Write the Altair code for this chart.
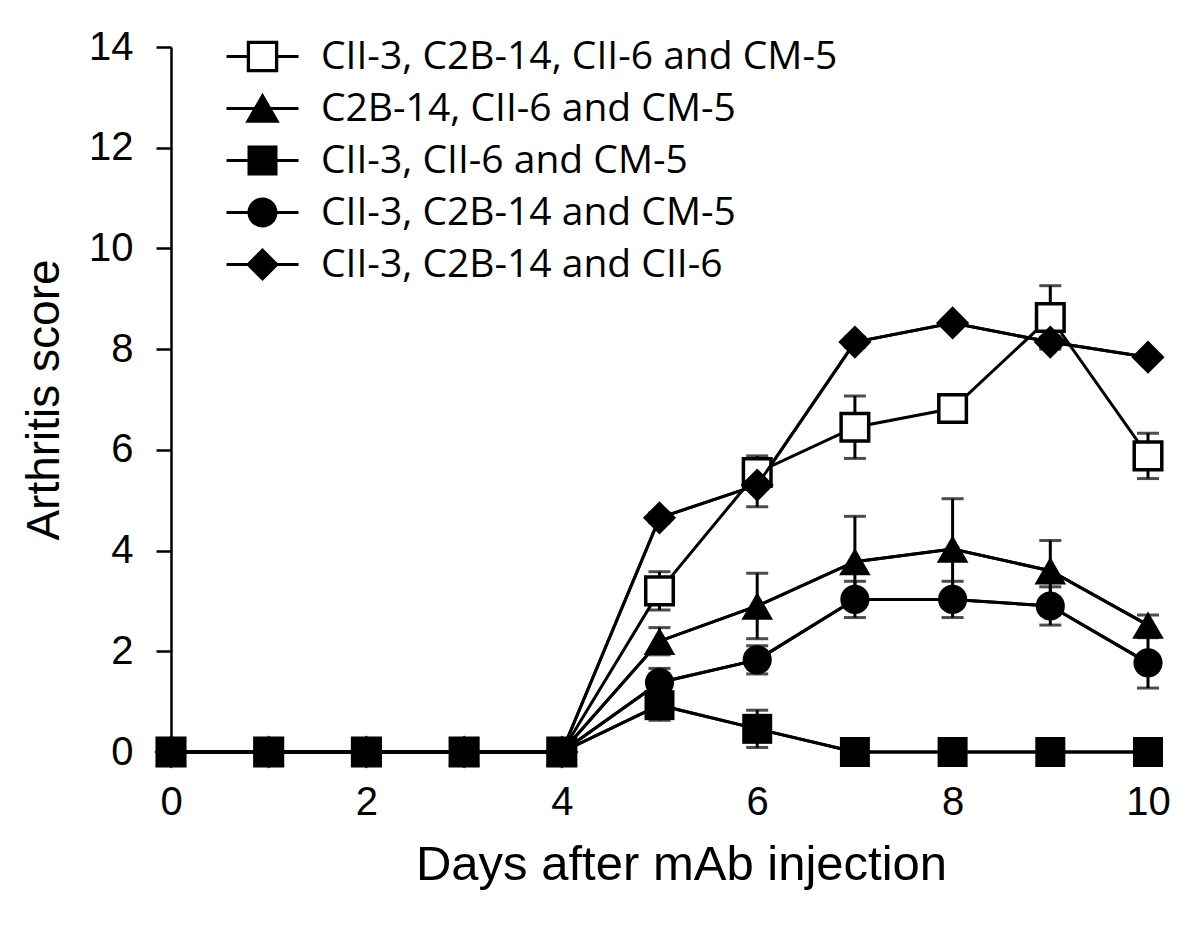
import altair as alt
import pandas as pd

days = list(range(11))

series_names = [
    "CII-3, C2B-14, CII-6 and CM-5",
    "C2B-14, CII-6 and CM-5",
    "CII-3, CII-6 and CM-5",
    "CII-3, C2B-14 and CM-5",
    "CII-3, C2B-14 and CII-6",
]

# mean arthritis scores per day
open_square_mean = [0, 0, 0, 0, 0, 3.2, 5.55, 6.45, 6.82, 8.63, 5.88]
triangle_mean    = [0, 0, 0, 0, 0, 2.2, 2.9, 3.78, 4.03, 3.6, 2.52]
square_mean      = [0, 0, 0, 0, 0, 0.93, 0.46, 0, 0, 0, 0]
circle_mean      = [0, 0, 0, 0, 0, 1.38, 1.83, 3.03, 3.03, 2.9, 1.77]
diamond_mean     = [0, 0, 0, 0, 0, 4.65, 5.3, 8.14, 8.52, 8.14, 7.84]

# standard errors
open_square_se = [0, 0, 0, 0, 0, 0.38, 0.33, 0.62, 0, 0.63, 0.45]
triangle_se    = [0, 0, 0, 0, 0, 0.27, 0.65, 0.9, 1.0, 0.6, 0.2]
square_se      = [0, 0, 0, 0, 0, 0.3, 0.37, 0, 0, 0, 0]
circle_se      = [0, 0, 0, 0, 0, 0.28, 0.28, 0.36, 0.36, 0.38, 0.5]
diamond_se     = [0, 0, 0, 0, 0, 0.1, 0.43, 0.1, 0, 0.1, 0]

means = [open_square_mean, triangle_mean, square_mean, circle_mean, diamond_mean]
ses = [open_square_se, triangle_se, square_se, circle_se, diamond_se]

rows = []
for name, m, s in zip(series_names, means, ses):
    for d, v, e in zip(days, m, s):
        rows.append({"series": name, "day": d, "score": v, "se": e,
                     "lo": v - e, "hi": v + e})
df = pd.DataFrame(rows)

open_name = series_names[0]

x_enc = alt.X(
    "day:Q",
    scale=alt.Scale(domain=[0, 10], nice=False, zero=False),
    axis=alt.Axis(
        values=[0, 2, 4, 6, 8, 10], format="d", domain=False, ticks=False,
        tickSize=0, grid=False, labelFlush=False, labelFontSize=40,
        labelFont="Liberation Sans", labelColor="black", labelPadding=30,
        title="Days after mAb injection", titleFont="Liberation Sans",
        titleFontSize=49, titleFontWeight="normal", titleColor="black",
        titlePadding=18, titleX=510, titleAnchor="middle",
    ),
)
y_enc = alt.Y(
    "score:Q",
    scale=alt.Scale(domain=[0, 14], nice=False),
    axis=alt.Axis(
        values=list(range(0, 15, 2)), format="d", grid=False, tickSize=15,
        tickWidth=2.5, tickColor="black", domainColor="black", domainWidth=2.5,
        labelFontSize=40, labelFont="Liberation Sans", labelColor="black",
        labelPadding=23, labelFlush=False,
        title="Arthritis score", titleFont="Liberation Sans", titleFontSize=46,
        titleFontWeight="normal", titleColor="black", titlePadding=20,
    ),
)

base = alt.Chart(df)

lines_all = base.mark_line(color="black", strokeWidth=3).encode(
    x=x_enc, y=y_enc, detail="series:N"
)

err = base.transform_filter("datum.se > 0")
err_rule = err.mark_rule(color="black", strokeWidth=3).encode(
    x="day:Q", y="lo:Q", y2="hi:Q"
)
cap_hi = err.mark_tick(color="black", orient="horizontal", size=22, thickness=3).encode(
    x="day:Q", y="hi:Q"
)
cap_lo = err.mark_tick(color="black", orient="horizontal", size=22, thickness=3).encode(
    x="day:Q", y="lo:Q"
)

open_pts = base.transform_filter(alt.datum.series == open_name).mark_point(
    shape="square", size=760, filled=True, fill="white", stroke="black",
    strokeWidth=3.5, opacity=1,
).encode(x="day:Q", y="score:Q")

filled_base = base.transform_filter(alt.datum.series != open_name)
lines_filled = filled_base.mark_line(color="black", strokeWidth=3).encode(
    x="day:Q", y="score:Q", detail="series:N"
)


def filled_layer(name, shape, size):
    return base.transform_filter(alt.datum.series == name).mark_point(
        shape=shape, size=size, filled=True, color="black", opacity=1
    ).encode(x="day:Q", y="score:Q")


tri_pts = filled_layer(series_names[1], "triangle-up", 1000)
sq_pts = filled_layer(series_names[2], "square", 900)
circ_pts = filled_layer(series_names[3], "circle", 850)
dia_pts = filled_layer(series_names[4], "diamond", 1100)

# legend glyphs drawn as filled outlines: a line through each marker
bar = "M-2.4,-0.1H2.4V0.1H-2.4Z"
legend_paths = [
    "M-2.4,-0.1H-1V0.1H-2.4ZM1,-0.1H2.4V0.1H1Z"
    "M-1.05,-1.05H1.05V1.05H-1.05ZM-0.83,-0.83V0.83H0.83V-0.83Z",
    bar + "M0,-1.05L1.15,0.95L-1.15,0.95Z",
    bar + "M-1,-1H1V1H-1Z",
    bar + "M1,0A1,1,0,1,1,-1,0A1,1,0,1,1,1,0Z",
    bar + "M-1.1,0L0,-1.1L1.1,0L0,1.1Z",
]

legend_layer = base.transform_filter("datum.day < 0").mark_point(
    filled=True, color="black", opacity=1, size=900
).encode(
    x="day:Q", y="score:Q",
    shape=alt.Shape(
        "series:N",
        scale=alt.Scale(domain=series_names, range=legend_paths),
        legend=alt.Legend(
            orient="none", legendX=72, legendY=-10, title=None, padding=0,
            labelFont="Open Sans", labelFontSize=39, labelColor="black",
            labelLimit=900, labelOffset=39, rowPadding=12,
            symbolSize=900, symbolFillColor="black", symbolOpacity=1,
            symbolOffset=0,
        ),
    ),
)

chart = alt.layer(
    lines_all, err_rule, cap_hi, cap_lo, open_pts, lines_filled,
    tri_pts, sq_pts, circ_pts, dia_pts, legend_layer
).properties(
    width=977, height=705,
    autosize=alt.AutoSizeParams(type="none"),
    padding={"left": 163, "top": 39, "right": 44, "bottom": 176},
    background="white",
).configure_view(stroke=None)

chart.save("out.html", embed_options={"renderer": "svg", "actions": False})
